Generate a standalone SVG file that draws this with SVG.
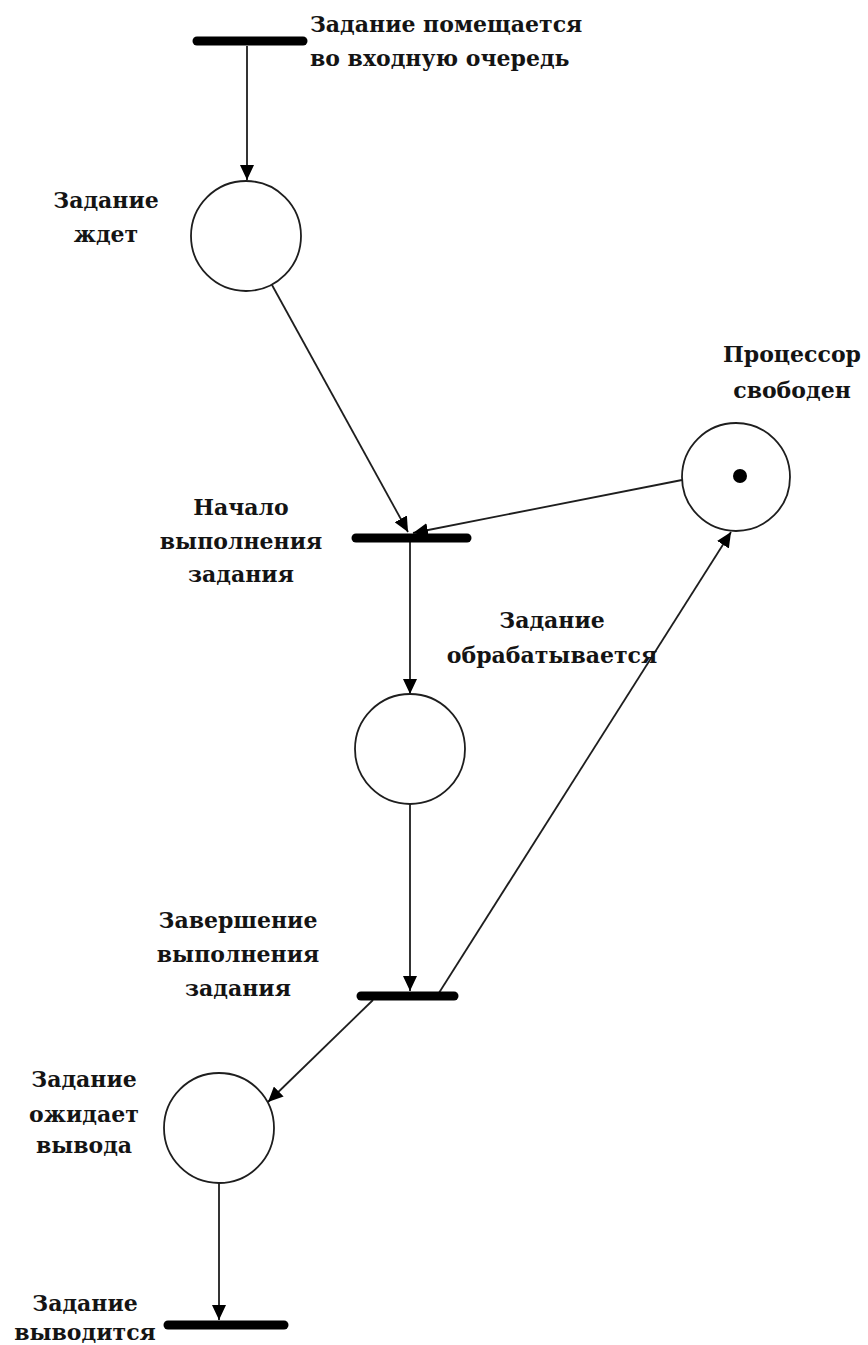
<svg xmlns="http://www.w3.org/2000/svg" width="868" height="1345" viewBox="0 0 868 1345">
  <style>
    .bar { stroke: #000; stroke-width: 9; stroke-linecap: round; fill: none; }
    .place { fill: #fff; stroke: #1e1e1e; stroke-width: 1.8; }
    .arc { stroke: #1e1e1e; stroke-width: 1.8; fill: none; marker-end: url(#arrow); }
    .lbl { font-family: "DejaVu Serif", "Liberation Serif", serif; font-weight: bold; font-size: 22px; fill: #141414; }
    .c { text-anchor: middle; }
  </style>
  <defs>
    <marker id="arrow" markerUnits="userSpaceOnUse" markerWidth="16" markerHeight="14" refX="15" refY="7" orient="auto">
      <path d="M0,0 L15,7 L0,14 z" fill="#000"/>
    </marker>
  </defs>
  <rect width="868" height="1345" fill="#fff"/>

  <!-- arcs of the net -->
  <g id="connectors">
    <line class="arc" x1="247" y1="46" x2="247" y2="180"/>
    <line class="arc" x1="272" y1="285" x2="408" y2="532"/>
    <line class="arc" x1="682" y1="480" x2="413" y2="533"/>
    <line class="arc" x1="410" y1="542" x2="410" y2="694"/>
    <line class="arc" x1="410" y1="804" x2="410" y2="991"/>
    <line class="arc" x1="437" y1="996" x2="731" y2="532"/>
    <line class="arc" x1="373" y1="1000" x2="268" y2="1102"/>
    <line class="arc" x1="219" y1="1183" x2="219" y2="1320"/>
  </g>

  <!-- transitions -->
  <g id="t-enqueue">
    <line class="bar" x1="197" y1="41" x2="303" y2="41"/>
    <text class="lbl" x="310" y="32">Задание помещается</text>
    <text class="lbl" x="310" y="66">во входную очередь</text>
  </g>
  <g id="t-start">
    <line class="bar" x1="356" y1="538" x2="467" y2="538"/>
    <text class="lbl c" x="241" y="515">Начало</text>
    <text class="lbl c" x="241" y="549">выполнения</text>
    <text class="lbl c" x="241" y="582">задания</text>
  </g>
  <g id="t-finish">
    <line class="bar" x1="361" y1="996" x2="454" y2="996"/>
    <text class="lbl c" x="238" y="928">Завершение</text>
    <text class="lbl c" x="238" y="962">выполнения</text>
    <text class="lbl c" x="238" y="996">задания</text>
  </g>
  <g id="t-output">
    <line class="bar" x1="168" y1="1325" x2="284" y2="1325"/>
    <text class="lbl c" x="85" y="1311">Задание</text>
    <text class="lbl c" x="85" y="1340">выводится</text>
  </g>

  <!-- places -->
  <g id="p-waiting">
    <circle class="place" cx="246" cy="236" r="55"/>
    <text class="lbl c" x="106" y="208">Задание</text>
    <text class="lbl c" x="106" y="242">ждет</text>
  </g>
  <g id="p-cpu-free">
    <circle class="place" cx="736" cy="477" r="54"/>
    <circle cx="740" cy="476" r="7" fill="#000"/>
    <text class="lbl c" x="792" y="362">Процессор</text>
    <text class="lbl c" x="792" y="398">свободен</text>
  </g>
  <g id="p-processing">
    <circle class="place" cx="410" cy="749" r="55"/>
    <text class="lbl c" x="552" y="628">Задание</text>
    <text class="lbl c" x="552" y="663">обрабатывается</text>
  </g>
  <g id="p-await-output">
    <circle class="place" cx="219" cy="1128" r="55"/>
    <text class="lbl c" x="84" y="1087">Задание</text>
    <text class="lbl c" x="84" y="1122">ожидает</text>
    <text class="lbl c" x="84" y="1153">вывода</text>
  </g>
</svg>
